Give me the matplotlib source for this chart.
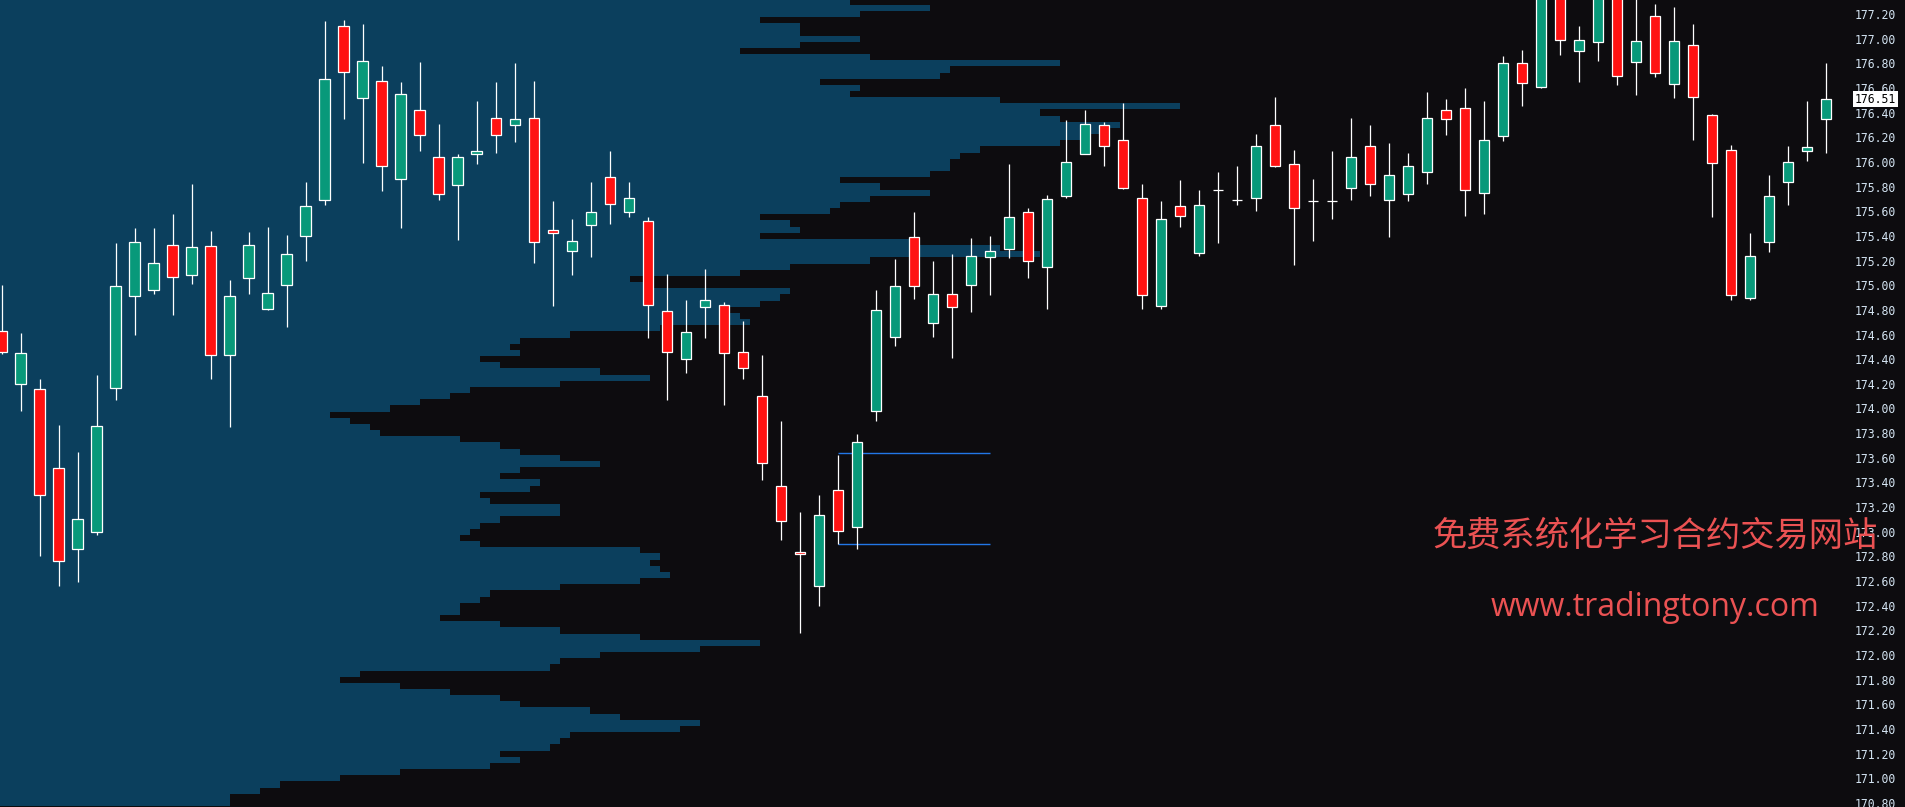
import numpy as np
import matplotlib.pyplot as plt
from matplotlib.transforms import blended_transform_factory

# OHLC, one bar per candle (left to right)
opens = [174.63, 174.20, 174.16, 173.52, 172.86, 173.00, 174.17, 174.91, 174.96, 175.33,
         175.08, 175.32, 174.43, 175.06, 174.81, 175.00, 175.40, 175.69, 177.10, 176.52,
         176.66, 175.86, 176.42, 176.04, 175.81, 176.06, 176.36, 176.30, 176.36, 175.45,
         175.28, 175.49, 175.88, 175.59, 175.52, 174.79, 174.40, 174.82, 174.84, 174.46,
         174.10, 173.37, 172.84, 172.56, 173.34, 173.04, 173.98, 174.58, 175.39, 174.69,
         174.93, 175.00, 175.23, 175.29, 175.59, 175.15, 175.72, 176.06, 176.30, 176.18,
         175.71, 174.83, 175.64, 175.26, 175.77, 175.69, 175.71, 176.30, 175.98, 175.68,
         175.68, 175.79, 176.13, 175.69, 175.74, 175.92, 176.42, 176.44, 175.75, 176.21,
         176.80, 176.61, 177.45, 176.90, 176.97, 177.40, 176.81, 177.18, 176.63, 176.95,
         176.38, 176.10, 174.90, 175.35, 175.84, 176.09, 176.35]
highs = [175.00, 174.61, 174.24, 173.87, 173.65, 174.27, 175.34, 175.46, 175.46, 175.58,
         175.82, 175.44, 175.04, 175.43, 175.47, 175.41, 175.84, 177.14, 177.15, 177.12,
         176.78, 176.65, 176.81, 176.31, 176.06, 176.49, 176.65, 176.80, 176.66, 175.68,
         175.54, 175.84, 176.09, 175.84, 175.55, 175.09, 174.88, 175.13, 174.86, 174.71,
         174.43, 173.90, 173.16, 173.30, 173.62, 173.79, 174.96, 175.21, 175.59, 175.20,
         175.25, 175.38, 175.40, 175.98, 175.63, 175.73, 176.34, 176.42, 176.32, 176.48,
         175.82, 175.68, 175.85, 175.77, 175.92, 175.97, 176.23, 176.53, 176.10, 175.86,
         176.09, 176.36, 176.30, 176.15, 176.07, 176.57, 176.51, 176.60, 176.49, 176.86,
         176.91, 177.50, 177.55, 177.10, 177.45, 177.48, 177.35, 177.28, 177.26, 177.12,
         176.39, 176.14, 175.42, 175.89, 176.13, 176.49, 176.80]
lows = [174.44, 173.98, 172.80, 172.56, 172.59, 172.97, 174.07, 174.60, 174.93, 174.76,
        175.01, 174.24, 173.85, 174.93, 174.80, 174.66, 175.20, 175.65, 176.35, 175.99,
        175.76, 175.46, 176.09, 175.69, 175.37, 175.98, 176.07, 176.16, 175.18, 174.83,
        175.08, 175.23, 175.50, 175.55, 174.57, 174.07, 174.29, 174.57, 174.03, 174.24,
        173.42, 172.93, 172.18, 172.40, 172.90, 172.86, 173.90, 174.51, 174.89, 174.58,
        174.41, 174.78, 174.92, 175.22, 175.06, 174.81, 175.71, 176.06, 175.97, 175.78,
        174.81, 174.81, 175.47, 175.24, 175.34, 175.65, 175.60, 175.96, 175.16, 175.36,
        175.54, 175.69, 175.72, 175.39, 175.68, 175.82, 176.22, 175.56, 175.58, 176.17,
        176.45, 176.60, 176.87, 176.65, 176.82, 176.62, 176.54, 176.69, 176.52, 176.18,
        175.55, 174.88, 174.88, 175.27, 175.65, 176.01, 176.07]
closes = [174.46, 174.45, 173.30, 172.76, 173.10, 173.86, 174.99, 175.35, 175.18, 175.07,
          175.31, 174.43, 174.91, 175.33, 174.94, 175.25, 175.64, 176.67, 176.73, 176.82,
          175.97, 176.55, 176.22, 175.74, 176.04, 176.09, 176.22, 176.35, 175.35, 175.42,
          175.36, 175.59, 175.66, 175.71, 174.84, 174.46, 174.62, 174.88, 174.45, 174.33,
          173.56, 173.09, 172.82, 173.14, 173.01, 173.73, 174.80, 174.99, 174.99, 174.93,
          174.82, 175.24, 175.28, 175.55, 175.20, 175.70, 176.00, 176.31, 176.13, 175.79,
          174.92, 175.54, 175.56, 175.65, 175.77, 175.69, 176.13, 175.97, 175.63, 175.68,
          175.68, 176.04, 175.82, 175.89, 175.97, 176.36, 176.35, 175.77, 176.18, 176.80,
          176.64, 177.40, 176.99, 176.99, 177.38, 176.70, 176.98, 176.72, 176.98, 176.53,
          175.99, 174.92, 175.24, 175.72, 176.00, 176.12, 176.51]

# volume profile, rows of 0.05 from 170.80 up to 177.30
profile_prices = np.round(np.arange(170.80, 177.31, 0.05), 2)
profile_vol = [23, 23, 26, 28, 34, 40, 49, 52, 50, 55,
               56, 57, 68, 70, 62, 59, 52, 50, 45, 40,
               34, 36, 55, 56, 60, 70, 76, 64, 56, 50,
               44, 46, 46, 48, 49, 56, 64, 67, 66, 65,
               66, 64, 48, 46, 47, 48, 50, 56, 56, 49,
               48, 53, 54, 50, 52, 60, 56, 52, 50, 46,
               38, 37, 35, 33, 39, 42, 45, 47, 56, 65,
               60, 50, 48, 52, 51, 52, 57, 66, 75, 74,
               72, 76, 78, 79, 65, 63, 74, 79, 87, 104,
               100, 92, 76, 80, 79, 76, 83, 84, 87, 93,
               88, 84, 93, 95, 95, 96, 98, 106, 108, 110,
               112, 106, 104, 118, 100, 85, 86, 82, 94, 95,
               106, 87, 74, 80, 86, 80, 80, 76, 86, 93,
               85]

# range lines
range_levels = [173.64, 172.90]
range_start, range_end = 44, 52

last_price = 176.51
tick_prices = np.round(np.arange(170.80, 177.21, 0.2), 2)
tick_labels = ['%.2f' % t for t in tick_prices]

bg = '#0d0c0f'
green, red = '#08997a', '#ff1212'

fig = plt.figure(figsize=(19.05, 8.07), dpi=100, facecolor=bg)
ax = fig.add_axes([0, 0, 1, 1], facecolor=bg)
x_left, x_right = -0.09, 100.17
ax.set_xlim(x_left, x_right)
ax.set_ylim(170.768, 177.313)

# profile
vol_scale = 10 / 19
ax.barh(profile_prices, np.array(profile_vol) * vol_scale, height=0.05, left=x_left,
        color='#0b3f5d', linewidth=0, antialiased=False, zorder=0)

# range box lines
ax.hlines(range_levels, range_start, range_end, color='#2277e6', lw=1.0, zorder=1)

# candles
x = np.arange(len(opens))
o, h, l, c = map(np.array, (opens, highs, lows, closes))
cols = np.where(c > o, green, np.where(c < o, red, 'white'))
ax.vlines(x, l, h, color='white', lw=0.9, zorder=2)
ax.bar(x, np.abs(c - o), bottom=np.minimum(o, c), width=0.55, color=cols,
       edgecolor='white', linewidth=0.9, zorder=3)

# right price scale
ax.set_yticks(tick_prices)
ax.set_yticklabels(tick_labels)
ax.yaxis.tick_right()
ax.tick_params(axis='y', length=0, pad=-36, labelsize=8.3, labelcolor='#d4e4f2')
for t in ax.get_yticklabels():
    t.set_fontfamily('DejaVu Sans Mono')
ax.set_xticks([])
for s in ax.spines.values():
    s.set_visible(False)

trans = blended_transform_factory(ax.transAxes, ax.transData)
ax.text(1855 / 1905, last_price, '%.2f' % last_price, transform=trans, ha='left', va='center',
        fontsize=8.3, family='DejaVu Sans Mono', color='black', zorder=6,
        bbox=dict(boxstyle='square,pad=0.15', fc='white', ec='none'))

# watermark
fig.text(1655 / 1905, 1 - 536 / 807, '免费系统化学习合约交易网站', ha='center', va='center',
         fontsize=24.7, color='#eb5253', family=['Noto Sans CJK SC', 'DejaVu Sans'])
fig.text(1655 / 1905, 1 - 607 / 807, 'www.tradingtony.com', ha='center', va='center',
         fontsize=23, color='#eb5253', family=['Open Sans', 'DejaVu Sans'])

fig.savefig('out.png', dpi=100, facecolor=bg)
